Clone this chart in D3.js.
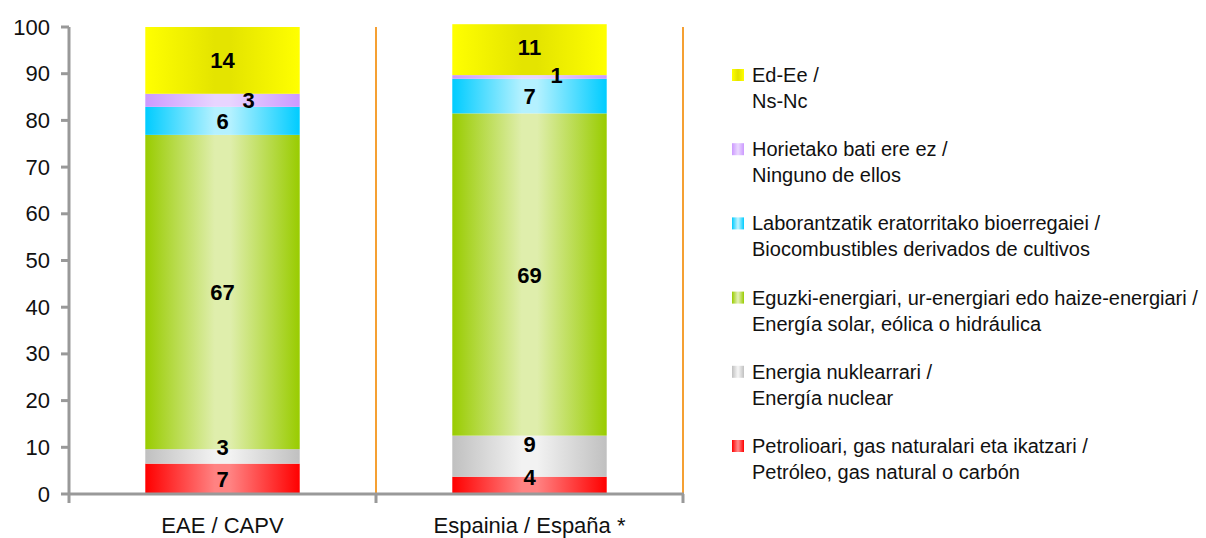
<!DOCTYPE html>
<html>
<head>
<meta charset="utf-8">
<script src="https://cdn.jsdelivr.net/npm/d3@7"></script>
<style>
  body { margin: 0; background: #fff; }
  svg { display: block; font-family: "Liberation Sans", Arial, sans-serif; }
</style>
</head>
<body>
<div id="vis"></div>
<script>
// data
var categories = ["EAE / CAPV", "Espainia / España *"];
var seriesNames = [
    ["Petrolioari, gas naturalari eta ikatzari /", "Petróleo, gas natural o carbón"],
    ["Energia nuklearrari /", "Energía nuclear"],
    ["Eguzki-energiari, ur-energiari edo haize-energiari /", "Energía solar, eólica o hidráulica"],
    ["Laborantzatik eratorritako bioerregaiei /", "Biocombustibles derivados de cultivos"],
    ["Horietako bati ere ez /", "Ninguno de ellos"],
    ["Ed-Ee /", "Ns-Nc"]
];
var valuesCAPV = [6.5, 3.1, 67.3, 6.0, 2.8, 14.3];
var valuesEspana = [3.7, 8.8, 69.0, 7.4, 0.8, 10.9];
var labelsCAPV = ["7", "3", "67", "6", "3", "14"];
var labelsEspana = ["4", "9", "69", "7", "1", "11"];
var yTicks = [0, 10, 20, 30, 40, 50, 60, 70, 80, 90, 100];

// colours: [edge, centre]
var colors = [
    ["#ff0000", "#ff8282"],
    ["#c0c0c0", "#f2f2f2"],
    ["#99cc00", "#dfeeac"],
    ["#00ccff", "#b4f1ff"],
    ["#cc99ff", "#e8d4ff"],
    ["#ffff00", "#e4e400"]
];

// small label nudges (dx, dy), series index -> per category
var nudge = {
    "0|1": [0, -9],
    "1|1": [0, -12],
    "1|0": [0, -8],
    "1|5": [0, -3],
    "0|4": [26, 0],
    "1|4": [27, -2]
};

var width = 1206, height = 538;

var svg = d3.select("#vis")
    .append("svg")
    .attr("width", width)
    .attr("height", height);

var defs = svg.append("defs");
colors.forEach(function(c, i) {
    var g = defs.append("linearGradient")
        .attr("id", "grad" + i)
        .attr("x1", "0%").attr("x2", "100%")
        .attr("y1", "0%").attr("y2", "0%");
    g.append("stop").attr("offset", "0%").attr("stop-color", c[0]);
    g.append("stop").attr("offset", "45%").attr("stop-color", c[1]);
    g.append("stop").attr("offset", "55%").attr("stop-color", c[1]);
    g.append("stop").attr("offset", "100%").attr("stop-color", c[0]);
});

var x = d3.scaleBand()
    .domain(categories)
    .range([69, 683]);

var y = d3.scaleLinear()
    .domain([0, 100])
    .range([494, 27]);

var axisColor = "#999999";

// orange separators
svg.append("g")
    .selectAll("line")
    .data(categories)
    .enter()
    .append("line")
    .attr("x1", function(d) { return x(d) + x.bandwidth(); })
    .attr("x2", function(d) { return x(d) + x.bandwidth(); })
    .attr("y1", y(100))
    .attr("y2", y(0))
    .attr("stroke", "#f5a033")
    .attr("stroke-width", 2);

// bars
var allValues = [valuesCAPV, valuesEspana];
var allLabels = [labelsCAPV, labelsEspana];
var barW = x.bandwidth() * 0.503;

categories.forEach(function(cat, ci) {
    var vals = allValues[ci];
    var cum = 0;
    var segs = vals.map(function(v, si) {
        var s = { si: si, y0: cum, y1: cum + v, label: allLabels[ci][si] };
        cum += v;
        return s;
    });
    var cx = x(cat) + x.bandwidth() / 2;
    var g = svg.append("g");
    g.selectAll("rect")
        .data(segs)
        .enter()
        .append("rect")
        .attr("x", cx - barW / 2)
        .attr("width", barW)
        .attr("y", function(d) { return y(d.y1); })
        .attr("height", function(d) { return y(d.y0) - y(d.y1); })
        .attr("fill", function(d) { return "url(#grad" + d.si + ")"; });

    g.selectAll("text")
        .data(segs)
        .enter()
        .append("text")
        .attr("x", function(d) {
            var n = nudge[ci + "|" + d.si];
            return cx + (n ? n[0] : 0);
        })
        .attr("y", function(d) {
            var n = nudge[ci + "|" + d.si];
            return (y(d.y0) + y(d.y1)) / 2 + 8 + (n ? n[1] : 0);
        })
        .attr("text-anchor", "middle")
        .style("font-size", "22px")
        .style("font-weight", "bold")
        .style("fill", "#000")
        .text(function(d) { return d.label; });
});

// y axis
var yAxis = svg.append("g");
yAxis.append("line")
    .attr("x1", 69).attr("x2", 69)
    .attr("y1", y(100)).attr("y2", y(0) + 9)
    .attr("stroke", axisColor).attr("stroke-width", 3);
yAxis.selectAll("line.tick")
    .data(yTicks)
    .enter()
    .append("line")
    .attr("class", "tick")
    .attr("x1", 61).attr("x2", 69)
    .attr("y1", function(d) { return y(d); })
    .attr("y2", function(d) { return y(d); })
    .attr("stroke", axisColor).attr("stroke-width", 3);
yAxis.selectAll("text")
    .data(yTicks)
    .enter()
    .append("text")
    .attr("x", 50)
    .attr("y", function(d) { return y(d) + 7.5; })
    .attr("text-anchor", "end")
    .style("font-size", "22px")
    .style("fill", "#111")
    .text(function(d) { return d; });

// x axis
var xAxis = svg.append("g");
xAxis.append("line")
    .attr("x1", 69).attr("x2", 684)
    .attr("y1", y(0)).attr("y2", y(0))
    .attr("stroke", axisColor).attr("stroke-width", 3);
xAxis.selectAll("line.tick")
    .data(categories)
    .enter()
    .append("line")
    .attr("class", "tick")
    .attr("x1", function(d) { return x(d) + x.bandwidth(); })
    .attr("x2", function(d) { return x(d) + x.bandwidth(); })
    .attr("y1", y(0))
    .attr("y2", y(0) + 9)
    .attr("stroke", axisColor).attr("stroke-width", 3);
xAxis.selectAll("text")
    .data(categories)
    .enter()
    .append("text")
    .attr("x", function(d) { return x(d) + x.bandwidth() / 2; })
    .attr("y", 533)
    .attr("text-anchor", "middle")
    .style("font-size", "22px")
    .style("fill", "#111")
    .text(function(d) { return d; });

// legend (top entry is last series)
var legendOrder = d3.range(seriesNames.length).reverse();
var legend = svg.append("g")
    .selectAll("g")
    .data(legendOrder)
    .enter()
    .append("g")
    .attr("transform", function(d, i) { return "translate(732," + (75 + i * 74.2) + ")"; });

legend.append("rect")
    .attr("x", 0)
    .attr("y", -6)
    .attr("width", 12)
    .attr("height", 12)
    .attr("fill", function(d) { return "url(#grad" + d + ")"; });

legend.append("text")
    .attr("x", 20)
    .attr("y", 7)
    .style("font-size", "20px")
    .style("fill", "#111")
    .text(function(d) { return seriesNames[d][0]; });

legend.append("text")
    .attr("x", 20)
    .attr("y", 33)
    .style("font-size", "20px")
    .style("fill", "#111")
    .text(function(d) { return seriesNames[d][1]; });
</script>
</body>
</html>
